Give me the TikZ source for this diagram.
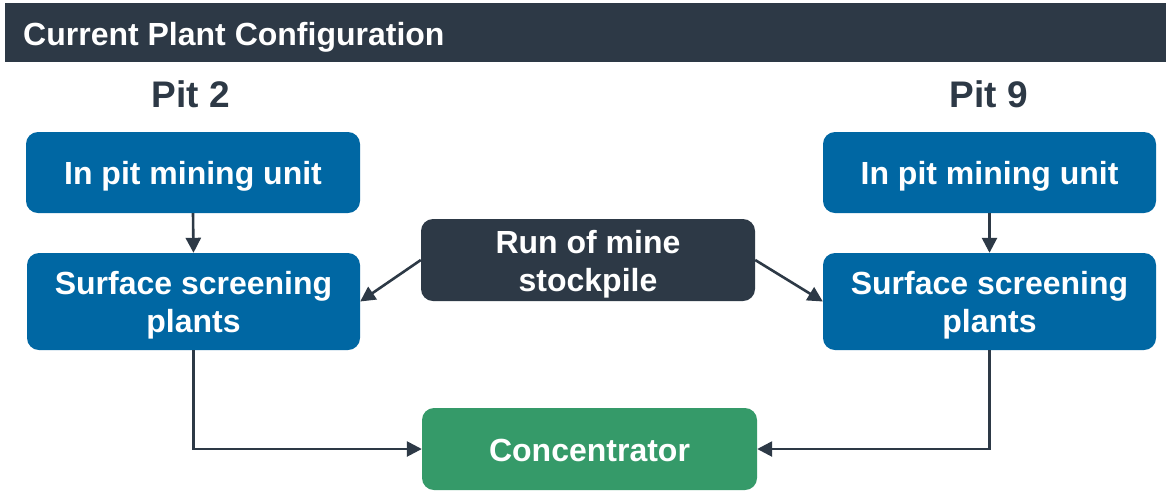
\documentclass[tikz,border=0pt]{standalone}
\usepackage{fontspec}
\setmainfont{Liberation Sans}
\usetikzlibrary{arrows.meta}
\definecolor{darkslate}{HTML}{2D3946}
\definecolor{boxblue}{HTML}{0067A3}
\definecolor{boxgreen}{HTML}{359A69}
\tikzset{
  box/.style={rounded corners=12pt, inner sep=0pt},
  bluebox/.style={box, fill=boxblue},
  darkbox/.style={box, fill=darkslate},
  greenbox/.style={box, fill=boxgreen},
  boxtext/.style={inner sep=0pt, align=center, text=white,
    font=\fontsize{32}{38}\selectfont\bfseries},
  conn/.style={draw=darkslate, line width=2.6pt, -{Triangle[length=15pt,width=15pt]}},
  pitlabel/.style={text=darkslate, font=\fontsize{37}{44}\selectfont\bfseries, inner sep=0pt, anchor=base},
}
\begin{document}
\begin{tikzpicture}[x=1pt,y=-1pt]
\useasboundingbox (0,0) rectangle (1166,491);
\fill[white] (0,0) rectangle (1166,491);
% header
\node[fill=darkslate, minimum width=1161pt, minimum height=59pt, inner sep=0pt] (header) at (585.5,32.5) {};
\node[anchor=base west, text=white, font=\fontsize{32}{38}\selectfont\bfseries, inner sep=0pt] (title) at (23,45) {Current Plant Configuration};
% pit labels
\node[pitlabel] (pit2) at (191,107) {Pit 2};
\node[pitlabel] (pit9) at (989,107) {Pit 9};
% boxes
\node[bluebox, minimum width=334pt, minimum height=81pt] (lpit) at (193,172.5) {};
\node[bluebox, minimum width=333pt, minimum height=97pt] (lssp) at (193.5,301.5) {};
\node[bluebox, minimum width=333pt, minimum height=81pt] (rpit) at (989.5,172.5) {};
\node[bluebox, minimum width=333pt, minimum height=97pt] (rssp) at (989.5,301.5) {};
\node[darkbox, minimum width=334pt, minimum height=82pt] (rom) at (588,260) {};
\node[greenbox, minimum width=335pt, minimum height=82pt] (conc) at (589.5,449) {};
% texts
\node[boxtext] (lpitt) at ([yshift=-4pt]lpit.center) {In pit mining unit};
\node[boxtext] (lsspt) at ([yshift=-4pt]lssp.center) {Surface screening\\plants};
\node[boxtext] (rpitt) at ([yshift=-4pt]rpit.center) {In pit mining unit};
\node[boxtext] (rsspt) at ([yshift=-4pt]rssp.center) {Surface screening\\plants};
\node[boxtext] (romt) at ([yshift=-4.5pt]rom.center) {Run of mine\\stockpile};
\node[boxtext] (conct) at ([yshift=-1.5pt]conc.center) {Concentrator};
% connectors
\draw[conn] (lpit.south) -- (lssp.north);
\draw[conn] (rpit.south) -- (rssp.north);
\draw[conn] (rom.west) -- (lssp.east);
\draw[conn] (rom.east) -- (rssp.west);
\draw[conn] (lssp.south) |- (conc.west);
\draw[conn] (rssp.south) |- (conc.east);
\end{tikzpicture}
\end{document}
